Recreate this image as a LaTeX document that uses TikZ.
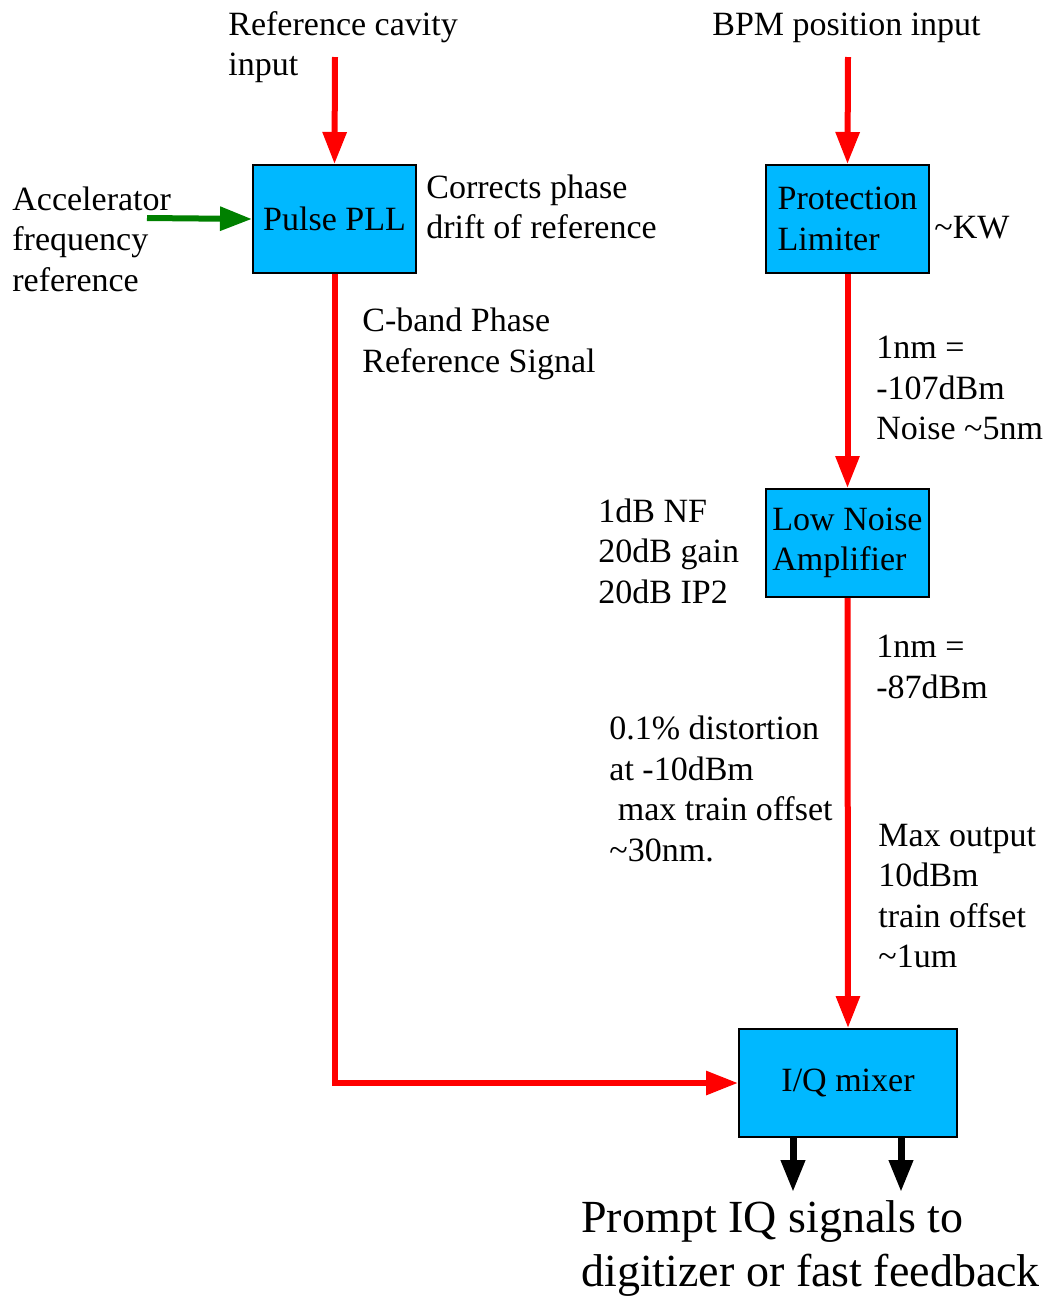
\documentclass[tikz,border=0pt]{standalone}
\usepackage{fontspec}
\setmainfont{Liberation Serif}
\usepackage{tikz}
\usetikzlibrary{arrows.meta}
\definecolor{boxblue}{RGB}{0,184,255}
\definecolor{sigred}{RGB}{255,0,0}
\definecolor{refgreen}{RGB}{0,128,0}

\begin{document}
\begin{tikzpicture}[x=0.5pt, y=-0.5pt,
  font=\fontsize{17}{20.25}\selectfont,
  blk/.style={draw, line width=1pt, fill=boxblue, minimum width=81.5pt, minimum height=54pt,
        align=left, inner sep=0pt},
  lbl/.style={anchor=west, align=left, inner sep=0pt},
  sig/.style={-{Triangle[length=16pt,width=11.5pt]}, line width=3pt}]
  \useasboundingbox (0,0) rectangle (1045,1297);

  % blocks
  \node[blk] (pll) at (334.5,219) {Pulse PLL};
  \node[blk] (lim) at (847.5,219) {Protection\\Limiter};
  \node[blk] (lna) at (847.5,543) {Low Noise\\Amplifier};
  \node[blk, minimum width=109pt] (mix) at (848,1083) {I/Q mixer};

  % free ends
  \coordinate (refin) at (335,57);
  \coordinate (bpmin) at (848,57);
  \coordinate (accin) at (147,218);
  \coordinate (outI) at (793,1192);
  \coordinate (outQ) at (901,1192);

  % inputs
  \draw[sig, sigred] (refin) -- (pll.north);
  \draw[sig, sigred] (bpmin) -- (lim.north);
  \draw[sig, refgreen] (accin) -- (pll.west);

  % BPM chain
  \draw[sig, sigred] (lim.south) -- (lna.north);
  \draw[sig, sigred] (lna.south) -- (mix.north);

  % phase reference to the mixer
  \draw[sig, sigred] (pll.south) |- (mix.west);

  % outputs
  \draw[sig, black, line width=3.5pt] (mix.south -| outI) -- (outI);
  \draw[sig, black, line width=3.5pt] (mix.south -| outQ) -- (outQ);

  % labels
  \node[lbl] (reftxt) at (228,47) {Reference cavity\\input};
  \node[lbl] (bpmtxt) at (712,28) {BPM position input};
  \node[lbl] (acctxt) at (12,239) {Accelerator\\frequency\\reference};
  \node[lbl] (corrtxt) at (426,207) {Corrects phase\\drift of reference};
  \node[lbl] (kwtxt) at (934,228) {\textasciitilde KW};
  \node[lbl] (cbandtxt) at (362,344) {C-band Phase\\Reference Signal};
  \node[lbl] (limtxt) at (876,388) {1nm =\\-107dBm\\Noise \textasciitilde5nm};
  \node[lbl] (lnatxt) at (598,551) {1dB NF\\20dB gain\\20dB IP2};
  \node[lbl] (ampout) at (876,667) {1nm =\\-87dBm};
  \node[lbl] (disttxt) at (609,789) {0.1\% distortion\\at -10dBm\\\hspace*{.25em}max train offset\\\textasciitilde30nm.};
  \node[lbl] (maxtxt) at (878,896) {Max output\\10dBm\\train offset\\\textasciitilde1um};
  \node[lbl, font=\fontsize{23}{27}\selectfont] (prompttxt) at (581,1248)
    {Prompt IQ signals to\\digitizer or fast feedback};
\end{tikzpicture}
\end{document}
